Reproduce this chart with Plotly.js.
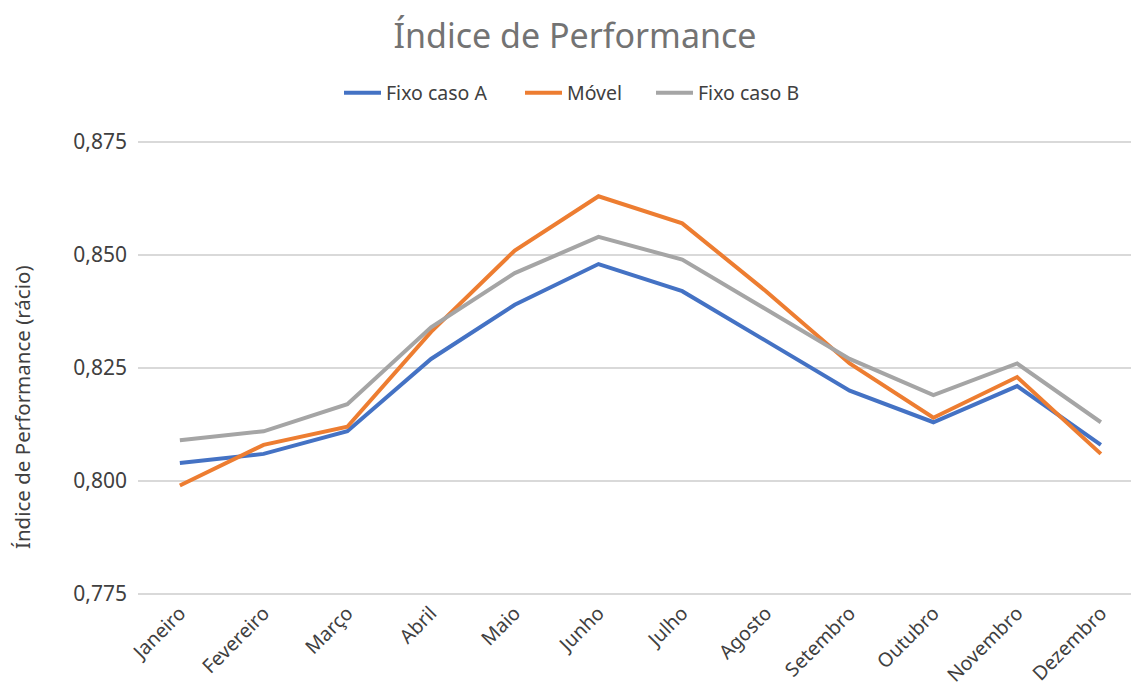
<!DOCTYPE html>
<html>
<head>
<meta charset="utf-8">
<script src="https://cdn.plot.ly/plotly-3.0.1.min.js"></script>
<style>html,body{margin:0;padding:0;overflow:hidden;background:#fff;}</style>
</head>
<body>
<div id="chart" style="width:1131px;height:688px;"></div>
<script>
const months = ["Janeiro","Fevereiro","Março","Abril","Maio","Junho","Julho","Agosto","Setembro","Outubro","Novembro","Dezembro"];
const fixoA = [0.804,0.806,0.811,0.827,0.839,0.848,0.842,0.831,0.820,0.813,0.821,0.808];
const movel = [0.799,0.808,0.812,0.833,0.851,0.863,0.857,0.842,0.826,0.814,0.823,0.806];
const fixoB = [0.809,0.811,0.817,0.834,0.846,0.854,0.849,0.838,0.827,0.819,0.826,0.813];
const yTicks = [0.775,0.800,0.825,0.850,0.875];

const font = "Noto Sans, Open Sans, sans-serif";
function tr(name, y, color, leg){
  return {x: months, y: y, name: name, type: "scatter", mode: "lines", legend: leg,
          line: {color: color, width: 4, shape: "linear"}};
}
const data = [
  tr("Fixo caso A", fixoA, "#4472C4", "legend"),
  tr("Móvel", movel, "#ED7D31", "legend2"),
  tr("Fixo caso B", fixoB, "#A5A5A5", "legend3")
];
function leg(px){
  return {orientation: "h", x: px/1131, xref: "container", xanchor: "left",
          y: 1 - 93/688, yref: "container", yanchor: "middle",
          font: {size: 19.5, color: "#404040", family: font}, itemwidth: 37,
          bgcolor: "rgba(0,0,0,0)"};
}
const layout = {
  width: 1131, height: 688,
  margin: {l: 138, r: 0, t: 139, b: 91},
  paper_bgcolor: "#fff", plot_bgcolor: "#fff",
  separators: ",.",
  font: {family: font, color: "#595959"},
  title: {text: "Índice de Performance", font: {size: 34, color: "#737373", family: font},
          x: 575/1131, xref: "container", xanchor: "center", y: 1 - 36/688, yref: "container", yanchor: "middle"},
  showlegend: true,
  legend: leg(339),
  legend2: leg(520),
  legend3: leg(651),
  xaxis: {type: "category", range: [-0.5, 11.36], showgrid: false, showline: false, zeroline: false,
          ticks: "", tickangle: -45, tickfont: {size: 19.5, color: "#404040", family: font}, fixedrange: true},
  yaxis: {range: [0.775 - 3/4520, 0.875 + 3/4520], tickvals: yTicks, tickformat: ".3f", showgrid: true,
          gridcolor: "#D9D9D9", gridwidth: 1.5, zeroline: false, showline: false, ticks: "",
          ticklabelstandoff: 10,
          tickfont: {size: 21, color: "#404040", family: font}, fixedrange: true},
  annotations: [{text: "Índice de Performance (rácio)", xref: "paper", yref: "paper",
                 x: (22-138)/993, y: (597-407)/458, xanchor: "center", yanchor: "middle",
                 textangle: -90, showarrow: false, font: {size: 20.5, color: "#404040", family: font}}]
};
Plotly.newPlot("chart", data, layout, {displayModeBar: false, staticPlot: true});
</script>
</body>
</html>
